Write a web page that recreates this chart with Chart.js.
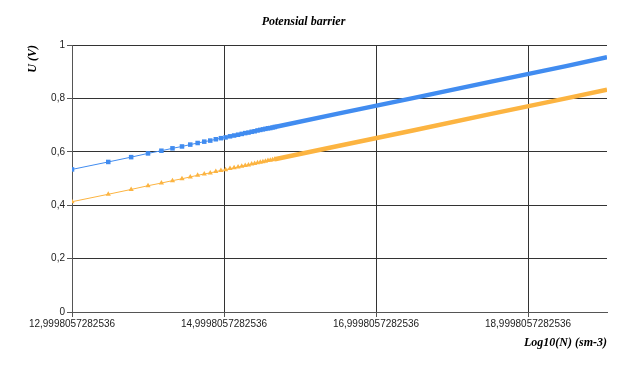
<!DOCTYPE html>
<html>
<head>
<meta charset="utf-8">
<script src="https://cdn.jsdelivr.net/npm/chart.js@4/dist/chart.umd.min.js"></script>
<style>
  html, body { margin: 0; padding: 0; background: #fff; }
  #chart { display: block; }
</style>
</head>
<body>
<canvas id="chart" width="624" height="366"></canvas>
<script>
// =========================
// DATA
// =========================
// log10(N) of the separate markers (left, sparse part)
const xPoints = [12.9998, 13.477, 13.778, 14.000, 14.176, 14.322, 14.447, 14.556, 14.653, 14.740,
  14.819, 14.892, 14.959, 15.021, 15.079, 15.133, 15.185, 15.233, 15.279, 15.322,
  15.364, 15.403, 15.441, 15.477, 15.512, 15.545, 15.578, 15.609, 15.639, 15.668];
const blueU = [0.534, 0.562, 0.580, 0.594, 0.604, 0.613, 0.620, 0.627, 0.633, 0.638,
  0.642, 0.647, 0.651, 0.654, 0.658, 0.661, 0.664, 0.667, 0.670, 0.672,
  0.675, 0.677, 0.680, 0.682, 0.684, 0.686, 0.688, 0.689, 0.691, 0.693];
const orangeU = [0.413, 0.441, 0.459, 0.473, 0.483, 0.492, 0.499, 0.506, 0.512, 0.517,
  0.521, 0.526, 0.530, 0.533, 0.537, 0.540, 0.543, 0.546, 0.549, 0.551,
  0.554, 0.556, 0.559, 0.561, 0.563, 0.565, 0.567, 0.568, 0.570, 0.572];

// dense part, where markers merge into a solid band
const xBand = [15.668, 16.5, 17.5, 18.5, 19.5, 20.039];
const blueBandU = [0.693, 0.743, 0.802, 0.862, 0.921, 0.954];
const orangeBandU = [0.572, 0.622, 0.681, 0.741, 0.800, 0.833];

const xMin = 12.9998057282536;
const xMax = 20.039;
const xTickValues = [12.9998057282536, 14.9998057282536, 16.9998057282536, 18.9998057282536];
const xTickLabels = ["12,9998057282536", "14,9998057282536", "16,9998057282536", "18,9998057282536"];

const BLUE = "#418CF0";
const ORANGE = "#FCB441";

function pts(xs, ys) {
  return xs.map((x, i) => ({ x: x, y: ys[i] }));
}

const tickFont = { family: "Liberation Sans", size: 10 };
const titleFont = { family: "Liberation Serif", size: 12, style: "italic", weight: "bold" };

// =========================
// DRAW CHART
// =========================
new Chart(document.getElementById("chart").getContext("2d"), {
  type: "line",
  data: {
    datasets: [
      {
        data: pts(xPoints, blueU),
        borderColor: BLUE,
        backgroundColor: BLUE,
        borderWidth: 1,
        pointStyle: "rect",
        pointRadius: 3.2,
        pointBorderWidth: 0,
        tension: 0
      },
      {
        data: pts(xBand, blueBandU),
        borderColor: BLUE,
        borderWidth: 4.5,
        pointRadius: 0,
        tension: 0
      },
      {
        data: pts(xPoints, orangeU),
        borderColor: ORANGE,
        backgroundColor: ORANGE,
        borderWidth: 1,
        pointStyle: "triangle",
        pointRadius: 3,
        pointBorderWidth: 0,
        tension: 0
      },
      {
        data: pts(xBand, orangeBandU),
        borderColor: ORANGE,
        borderWidth: 4.5,
        pointRadius: 0,
        tension: 0
      }
    ]
  },
  options: {
    responsive: false,
    animation: false,
    layout: { padding: { left: 0, right: 17, top: 0, bottom: 0 } },
    plugins: {
      legend: { display: false },
      tooltip: { enabled: false },
      title: {
        display: true,
        text: "Potensial barrier",
        color: "#000",
        font: titleFont,
        padding: { top: 15, bottom: 15.6 }
      }
    },
    scales: {
      x: {
        type: "linear",
        min: xMin,
        max: xMax,
        afterBuildTicks: scale => {
          scale.ticks = xTickValues.map(v => ({ value: v }));
        },
        afterFit: scale => { scale.height = 54; },
        ticks: {
          color: "#222",
          font: tickFont,
          padding: 1,
          maxRotation: 0,
          autoSkip: false,
          callback: (v, i) => xTickLabels[i]
        },
        grid: { color: "#333", tickLength: 5, tickColor: "#555" },
        border: { color: "#555" },
        title: {
          display: true,
          text: "Log10(N) (sm-3)",
          align: "end",
          color: "#000",
          font: titleFont,
          padding: { top: 4, bottom: 16 }
        }
      },
      y: {
        min: 0,
        max: 1,
        afterFit: scale => { scale.width = 72; },
        ticks: {
          stepSize: 0.2,
          color: "#222",
          font: tickFont,
          padding: 2,
          callback: v => String(Math.round(v * 10) / 10).replace(".", ",")
        },
        grid: { color: "#333", tickLength: 5, tickColor: "#555" },
        border: { color: "#555" },
        title: {
          display: true,
          text: "U (V)",
          align: "end",
          color: "#000",
          font: titleFont,
          padding: { top: 26, bottom: 0 }
        }
      }
    }
  }
});
</script>
</body>
</html>
